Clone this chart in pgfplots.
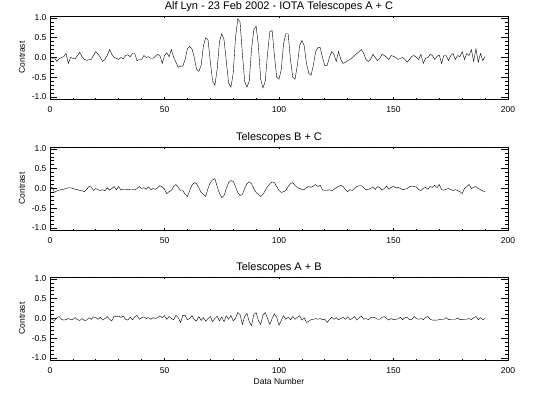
\documentclass[border=0pt]{standalone}
\usepackage{pgfplots}
\pgfplotsset{compat=1.18}
\usepackage{fontspec}
\setmainfont{Liberation Sans}
\pgfplotsset{
  idl/.style={
    scale only axis, width=458pt, height=83pt,
    xmin=0, xmax=200, ymin=-1.05, ymax=1.05,
    xtick={0,50,100,150,200}, xticklabels={0,50,100,150,200},
    ytick={-1,-0.5,0,0.5,1}, yticklabels={-1.0,-0.5,0.0,0.5,1.0},
    minor x tick num=4, minor y tick num=4,
    tick align=inside,
    axis line style={line width=0.7pt},
    tick style={line width=0.7pt, black},
    x tick style={/pgfplots/major tick length=2pt, /pgfplots/minor tick length=1pt},
    y tick style={/pgfplots/major tick length=7pt, /pgfplots/minor tick length=3.5pt},
    tick label style={font=\fontsize{8.5}{10}\selectfont},
    xticklabel style={anchor=base, yshift=-14pt},
    label style={font=\fontsize{8.5}{10}\selectfont},
    every axis title/.style={font=\fontsize{11}{13}\selectfont, at={(axis description cs:0.5,1)}, anchor=base, yshift=6pt},
    ylabel=Contrast,
    ylabel style={at={(axis description cs:-0.0611,0.5)}, anchor=center, rotate=0},
    cycle list={{black, line width=0.9pt, mark=none, line join=round}},
  }
}
\begin{document}
\begin{tikzpicture}
\path[use as bounding box] (0,0) rectangle (533pt,393pt);
\begin{axis}[idl, at={(50pt,294pt)}, anchor=south west, title={Alf Lyn - 23 Feb 2002 - IOTA Telescopes A + C}]
\addplot coordinates {
(0,0.03) (1,-0.02) (2,0.00) (3,-0.10) (4,-0.03) (5,0.00) (6,0.02) (7,0.10) (8,-0.15) (9,0.00)
(10,-0.02) (11,-0.03) (12,0.05) (13,0.13) (14,0.02) (15,-0.05) (16,-0.07) (17,-0.06) (18,-0.05) (19,0.05)
(20,0.15) (21,0.08) (22,0.00) (23,-0.10) (24,-0.05) (25,0.05) (26,0.20) (27,0.08) (28,0.00) (29,-0.02)
(30,-0.05) (31,0.00) (32,-0.03) (33,0.05) (34,0.07) (35,0.02) (36,0.10) (37,0.10) (38,-0.08) (39,-0.05)
(40,-0.05) (41,0.05) (42,0.00) (43,0.02) (44,-0.02) (45,-0.02) (46,0.03) (47,0.08) (48,0.05) (49,-0.15)
(50,0.05) (51,0.12) (52,0.02) (53,0.20) (54,0.00) (55,-0.12) (56,-0.25) (57,-0.22) (58,-0.22) (59,-0.05)
(60,0.22) (61,0.28) (62,0.22) (63,0.00) (64,-0.30) (65,-0.35) (66,-0.20) (67,0.30) (68,0.50) (69,0.45)
(70,-0.10) (71,-0.60) (72,-0.70) (73,-0.30) (74,0.40) (75,0.60) (76,0.45) (77,-0.10) (78,-0.65) (79,-0.75)
(80,-0.40) (81,0.50) (82,0.98) (83,0.90) (84,0.10) (85,-0.60) (86,-0.75) (87,-0.60) (88,0.20) (89,0.70)
(90,0.80) (91,0.30) (92,-0.55) (93,-0.77) (94,-0.60) (95,0.10) (96,0.65) (97,0.68) (98,0.05) (99,-0.50)
(100,-0.55) (101,-0.30) (102,0.35) (103,0.60) (104,0.60) (105,-0.05) (106,-0.50) (107,-0.55) (108,-0.20) (109,0.30)
(110,0.43) (111,0.30) (112,-0.15) (113,-0.40) (114,-0.45) (115,-0.20) (116,0.15) (117,0.25) (118,0.25) (119,0.00)
(120,-0.20) (121,-0.20) (122,0.00) (123,0.15) (124,0.08) (125,-0.10) (126,0.15) (127,-0.05) (128,-0.15) (129,-0.12)
(130,-0.08) (131,-0.05) (132,0.00) (133,0.05) (134,0.10) (135,0.15) (136,0.20) (137,0.10) (138,-0.05) (139,-0.10)
(140,-0.05) (141,0.08) (142,0.00) (143,-0.08) (144,-0.02) (145,0.08) (146,0.05) (147,0.00) (148,-0.05) (149,0.05)
(150,0.03) (151,0.00) (152,-0.05) (153,-0.02) (154,0.00) (155,-0.05) (156,-0.12) (157,-0.05) (158,0.03) (159,0.05)
(160,0.00) (161,-0.05) (162,0.08) (163,-0.15) (164,-0.02) (165,0.00) (166,0.08) (167,0.05) (168,-0.05) (169,0.03)
(170,0.06) (171,-0.15) (172,0.05) (173,0.05) (174,-0.08) (175,0.05) (176,0.10) (177,-0.05) (178,0.05) (179,0.02)
(180,0.15) (181,-0.05) (182,0.10) (183,0.05) (184,0.20) (185,-0.10) (186,0.22) (187,-0.12) (188,0.10) (189,-0.08)
(190,0.03)
};
\end{axis}
\begin{axis}[idl, at={(50pt,163pt)}, anchor=south west, title={Telescopes B + C}]
\addplot coordinates {
(0,0.05) (1,0.02) (2,-0.10) (3,-0.06) (4,-0.04) (5,-0.03) (6,-0.02) (7,0.00) (8,0.02) (9,0.02)
(10,0.00) (11,-0.02) (12,-0.03) (13,-0.05) (14,-0.06) (15,-0.08) (16,-0.02) (17,0.05) (18,0.04) (19,-0.05)
(20,0.00) (21,-0.03) (22,-0.05) (23,-0.03) (24,-0.06) (25,0.02) (26,-0.04) (27,0.00) (28,0.05) (29,-0.03)
(30,0.05) (31,-0.04) (32,-0.02) (33,-0.02) (34,-0.03) (35,-0.02) (36,-0.02) (37,-0.04) (38,0.00) (39,0.05)
(40,0.00) (41,0.02) (42,-0.02) (43,0.04) (44,-0.03) (45,0.00) (46,-0.02) (47,0.02) (48,0.07) (49,0.04)
(50,-0.02) (51,-0.13) (52,-0.08) (53,-0.05) (54,0.05) (55,0.10) (56,0.03) (57,-0.05) (58,-0.05) (59,-0.15)
(60,-0.20) (61,-0.05) (62,0.08) (63,0.15) (64,0.12) (65,0.02) (66,-0.10) (67,-0.15) (68,-0.20) (69,0.00)
(70,0.15) (71,0.22) (72,0.25) (73,0.05) (74,-0.12) (75,-0.23) (76,-0.18) (77,0.00) (78,0.15) (79,0.20)
(80,0.18) (81,0.05) (82,-0.10) (83,-0.18) (84,-0.15) (85,0.00) (86,0.12) (87,0.17) (88,0.12) (89,0.00)
(90,-0.10) (91,-0.15) (92,-0.20) (93,-0.15) (94,-0.05) (95,0.05) (96,0.12) (97,0.17) (98,0.15) (99,0.05)
(100,-0.05) (101,-0.10) (102,-0.08) (103,-0.05) (104,0.05) (105,0.12) (106,0.15) (107,0.08) (108,0.02) (109,0.00)
(110,-0.02) (111,-0.03) (112,0.02) (113,0.05) (114,0.03) (115,0.06) (116,0.10) (117,0.05) (118,0.08) (119,-0.03)
(120,-0.05) (121,-0.05) (122,-0.03) (123,-0.06) (124,-0.02) (125,0.02) (126,0.05) (127,0.08) (128,0.05) (129,-0.03)
(130,-0.08) (131,-0.03) (132,-0.05) (133,0.00) (134,0.05) (135,0.07) (136,0.07) (137,0.02) (138,-0.03) (139,-0.02)
(140,0.00) (141,0.04) (142,-0.03) (143,0.05) (144,0.02) (145,-0.04) (146,0.00) (147,0.06) (148,-0.02) (149,0.03)
(150,0.05) (151,0.02) (152,0.03) (153,0.00) (154,-0.03) (155,-0.02) (156,0.00) (157,0.05) (158,0.06) (159,0.05)
(160,0.04) (161,-0.03) (162,-0.05) (163,0.00) (164,0.03) (165,-0.02) (166,0.05) (167,0.03) (168,0.08) (169,0.02)
(170,0.10) (171,-0.03) (172,-0.04) (173,-0.02) (174,0.00) (175,-0.03) (176,-0.05) (177,-0.03) (178,-0.05) (179,-0.08)
(180,-0.13) (181,0.00) (182,0.05) (183,0.10) (184,0.00) (185,0.03) (186,0.05) (187,0.00) (188,-0.03) (189,-0.06)
(190,-0.08)
};
\end{axis}
\begin{axis}[idl, at={(50pt,33pt)}, anchor=south west, title={Telescopes A + B}, xlabel={Data Number},
  xlabel style={at={(axis description cs:0.5,-0.256)}, anchor=center}]
\addplot coordinates {
(0,0.03) (1,-0.03) (2,-0.05) (3,0.02) (4,0.05) (5,-0.02) (6,-0.04) (7,-0.03) (8,0.00) (9,-0.03)
(10,-0.02) (11,0.02) (12,-0.03) (13,-0.05) (14,0.00) (15,-0.05) (16,-0.04) (17,0.02) (18,-0.02) (19,0.04)
(20,0.02) (21,-0.02) (22,0.03) (23,-0.04) (24,0.00) (25,0.05) (26,-0.02) (27,-0.06) (28,0.06) (29,0.05)
(30,0.06) (31,0.03) (32,0.06) (33,-0.02) (34,-0.04) (35,0.03) (36,-0.03) (37,0.04) (38,0.08) (39,-0.02)
(40,0.02) (41,0.04) (42,0.00) (43,0.02) (44,-0.02) (45,0.02) (46,0.00) (47,0.02) (48,0.07) (49,0.02)
(50,0.07) (51,-0.02) (52,0.05) (53,0.00) (54,-0.03) (55,0.08) (56,0.02) (57,-0.10) (58,0.08) (59,0.08)
(60,-0.03) (61,0.00) (62,0.07) (63,-0.03) (64,-0.06) (65,0.05) (66,-0.05) (67,0.02) (68,-0.07) (69,0.00)
(70,0.05) (71,-0.08) (72,0.00) (73,0.06) (74,-0.06) (75,0.04) (76,-0.08) (77,0.07) (78,-0.02) (79,0.08)
(80,-0.06) (81,0.00) (82,0.15) (83,0.10) (84,-0.15) (85,0.05) (86,0.13) (87,-0.08) (88,-0.18) (89,0.10)
(90,0.15) (91,-0.05) (92,-0.15) (93,0.08) (94,0.15) (95,0.00) (96,-0.15) (97,0.00) (98,0.12) (99,0.03)
(100,-0.17) (101,-0.05) (102,0.07) (103,-0.02) (104,0.03) (105,-0.03) (106,0.05) (107,-0.02) (108,0.03) (109,0.07)
(110,-0.04) (111,0.02) (112,-0.10) (113,-0.07) (114,-0.03) (115,-0.02) (116,0.00) (117,-0.02) (118,0.00) (119,-0.03)
(120,-0.02) (121,-0.10) (122,-0.03) (123,0.03) (124,-0.02) (125,0.02) (126,-0.03) (127,0.00) (128,0.03) (129,-0.02)
(130,0.04) (131,-0.03) (132,0.00) (133,0.05) (134,-0.04) (135,0.02) (136,0.06) (137,-0.02) (138,0.00) (139,-0.03)
(140,0.02) (141,0.03) (142,0.02) (143,-0.02) (144,-0.02) (145,0.03) (146,0.05) (147,0.00) (148,-0.04) (149,0.00)
(150,-0.03) (151,-0.02) (152,-0.01) (153,0.03) (154,-0.03) (155,0.02) (156,0.03) (157,-0.03) (158,-0.02) (159,0.05)
(160,0.00) (161,-0.02) (162,0.00) (163,-0.03) (164,0.02) (165,0.05) (166,-0.02) (167,-0.04) (168,-0.04) (169,-0.04)
(170,-0.03) (171,-0.02) (172,-0.02) (173,0.02) (174,-0.03) (175,-0.02) (176,-0.02) (177,-0.02) (178,0.01) (179,-0.03)
(180,-0.03) (181,-0.02) (182,-0.02) (183,0.00) (184,-0.03) (185,0.02) (186,0.05) (187,-0.03) (188,0.02) (189,-0.03)
(190,0.00)
};
\end{axis}
\end{tikzpicture}
\end{document}
